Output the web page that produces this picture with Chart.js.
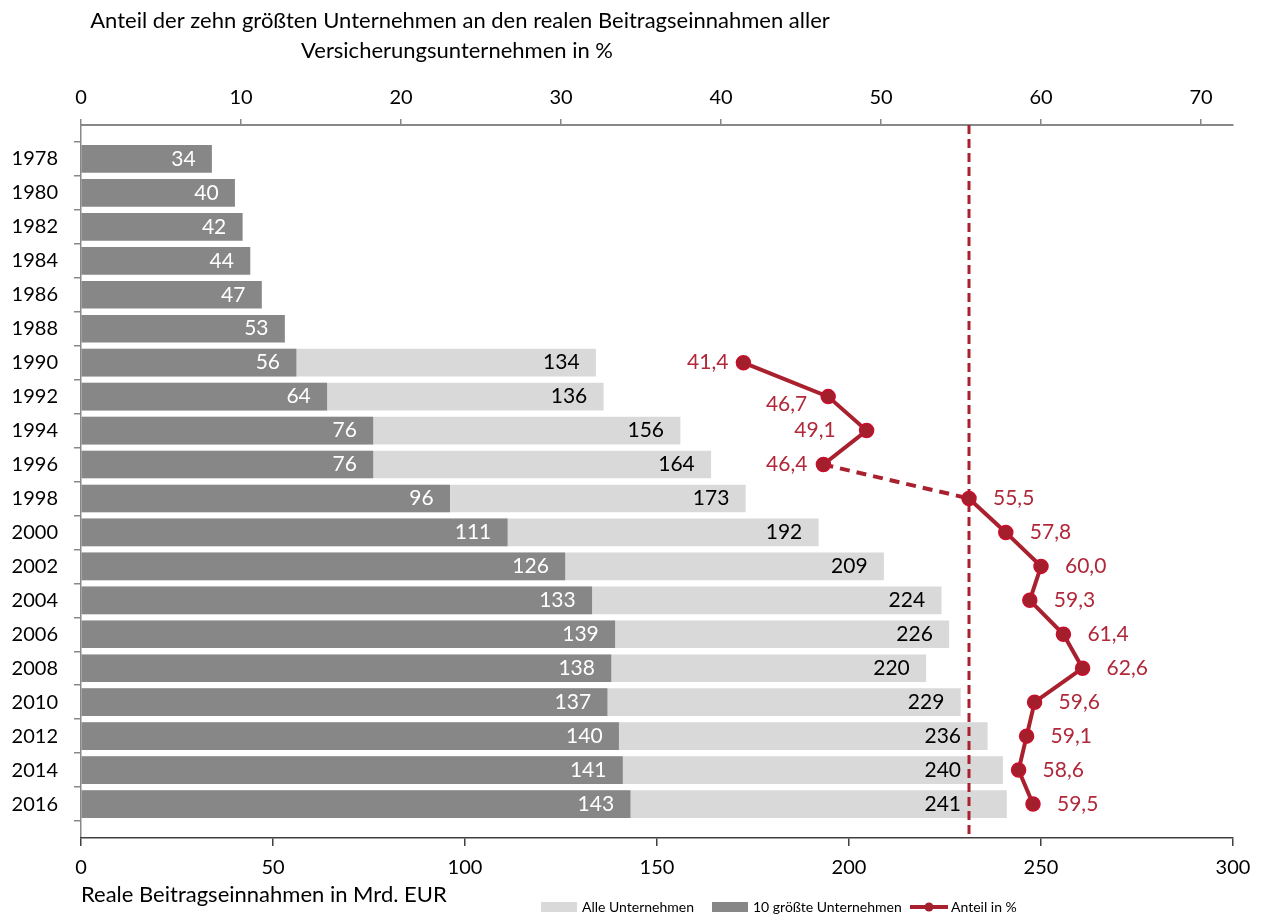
<!DOCTYPE html>
<html lang="de">
<head>
<meta charset="utf-8">
<title>Anteil der zehn größten Versicherungsunternehmen</title>
<script src="https://cdn.jsdelivr.net/npm/chart.js@4/dist/chart.umd.min.js"></script>
<style>
  html, body { margin: 0; padding: 0; background: #fff; }
  #wrap { width: 1266px; height: 918px; }
</style>
</head>
<body>
<div id="wrap"><canvas id="chart" width="1266" height="918"></canvas></div>
<script>
// Jahre (Kategorien)
const years = ['1978', '1980', '1982', '1984', '1986', '1988', '1990', '1992', '1994', '1996',
               '1998', '2000', '2002', '2004', '2006', '2008', '2010', '2012', '2014', '2016'];

// reale Beitragseinnahmen in Mrd. EUR
const top10 = [34, 40, 42, 44, 47, 53, 56, 64, 76, 76, 96, 111, 126, 133, 139, 138, 137, 140, 141, 143];
const allCompanies = [null, null, null, null, null, null, 134, 136, 156, 164, 173, 192, 209, 224, 226, 220, 229, 236, 240, 241];

// Anteil der zehn größten in %
const sharePct = [null, null, null, null, null, null, 41.4, 46.7, 49.1, 46.4, 55.5, 57.8, 60.0, 59.3, 61.4, 62.6, 59.6, 59.1, 58.6, 59.5];

const titleLines = ['Anteil der zehn größten Unternehmen an den realen Beitragseinnahmen aller',
                    'Versicherungsunternehmen in %'];
const xTitle = 'Reale Beitragseinnahmen in Mrd. EUR';

const FONT = 'Lato';
const RED = '#a9202e';
const RED_TEXT = '#b0283a';

// leere Randkategorien, damit oben und unten Luft bleibt
const labels = [''].concat(years, ['']);
const pad = arr => [null].concat(arr, [null]);

// Beschriftung der Anteile: Versatz zum Punkt (links bei den ersten Jahren)
const shareLabelOffset = { '1990': [-15, 0], '1992': [-21, 8], '1994': [-31, 0], '1996': [-16, 0] };
const dashedFrom = '1996';
const refYear = '1998';

const refX = chart => chart.scales.x2.getPixelForValue(sharePct[years.indexOf(refYear)]);

const topTitle = {
  id: 'topTitle',
  afterDraw(chart) {
    const ctx = chart.ctx;
    ctx.save();
    ctx.font = '22px ' + FONT;
    ctx.fillStyle = '#000';
    ctx.textAlign = 'center';
    ctx.fillText(titleLines[0], 460, 28);
    ctx.fillText(titleLines[1], 457, 58);
    ctx.restore();
  }
};

// senkrechte Linie beim Wert von 1998, vor der Linie gezeichnet
const refLine = {
  id: 'refLine',
  beforeDatasetDraw(chart, args) {
    if (args.meta.type !== 'line') return;
    const x = refX(chart);
    const {top, bottom} = chart.chartArea;
    const ctx = chart.ctx;
    ctx.save();
    ctx.strokeStyle = RED;
    ctx.lineWidth = 3;
    ctx.setLineDash([9, 5]);
    ctx.beginPath();
    ctx.moveTo(x, top);
    ctx.lineTo(x, bottom);
    ctx.stroke();
    ctx.restore();
  }
};

const valueLabels = {
  id: 'valueLabels',
  afterDatasetsDraw(chart) {
    const ctx = chart.ctx;
    const limit = refX(chart) - 8;
    ctx.save();
    ctx.font = '21px ' + FONT;
    ctx.textBaseline = 'middle';
    chart.data.datasets.forEach((ds, i) => {
      const meta = chart.getDatasetMeta(i);
      meta.data.forEach((el, j) => {
        const v = ds.data[j];
        if (v == null) return;
        if (meta.type === 'bar') {
          ctx.fillStyle = ds.labelColor;
          ctx.textAlign = 'right';
          ctx.fillText(String(v), Math.min(el.x - 16, limit), el.y);
        } else {
          const off = shareLabelOffset[labels[j]];
          ctx.fillStyle = RED_TEXT;
          const txt = v.toFixed(1).replace('.', ',');
          if (off) {
            ctx.textAlign = 'right';
            ctx.fillText(txt, el.x + off[0], el.y + off[1]);
          } else {
            ctx.textAlign = 'left';
            ctx.fillText(txt, el.x + 24, el.y);
          }
        }
      });
    });
    ctx.restore();
  }
};

const legendStarts = [541, 712, 910];

const bottomLegend = {
  id: 'bottomLegend',
  afterDraw(chart) {
    const ctx = chart.ctx;
    const y = 907;
    ctx.save();
    ctx.font = '14px ' + FONT;
    ctx.textBaseline = 'middle';
    ctx.textAlign = 'left';
    chart.data.datasets.forEach((ds, i) => {
      let x = legendStarts[i];
      if (ds.type === 'line') {
        ctx.strokeStyle = RED;
        ctx.lineWidth = 4;
        ctx.beginPath();
        ctx.moveTo(x, y);
        ctx.lineTo(x + 38, y);
        ctx.stroke();
        ctx.fillStyle = ds.pointBackgroundColor;
        ctx.beginPath();
        ctx.arc(x + 19, y, 4.5, 0, Math.PI * 2);
        ctx.fill();
        x += 41;
      } else {
        ctx.fillStyle = ds.backgroundColor;
        ctx.fillRect(x, y - 5, 36, 10);
        x += 41;
      }
      ctx.fillStyle = '#000';
      ctx.fillText(ds.label, x, y);
    });
    ctx.restore();
  }
};

const tickFont = { family: FONT, size: 20 };

new Chart(document.getElementById('chart'), {
  type: 'bar',
  data: {
    labels: labels,
    datasets: [
      {
        label: 'Alle Unternehmen',
        data: pad(allCompanies),
        backgroundColor: '#d9d9d9',
        labelColor: '#000',
        grouped: false,
        barThickness: 27,
        xAxisID: 'x',
        order: 3
      },
      {
        label: '10 größte Unternehmen',
        data: pad(top10),
        backgroundColor: '#878787',
        labelColor: '#fff',
        grouped: false,
        barThickness: 27,
        xAxisID: 'x',
        order: 2
      },
      {
        type: 'line',
        label: 'Anteil in %',
        data: pad(sharePct),
        xAxisID: 'x2',
        borderColor: RED,
        borderWidth: 4,
        pointRadius: 7,
        pointBorderWidth: 1.5,
        pointBackgroundColor: '#a31f2b',
        pointBorderColor: '#c8102e',
        spanGaps: false,
        segment: {
          borderDash: ctx => labels[ctx.p0DataIndex] === dashedFrom ? [10, 7] : undefined
        },
        order: 1
      }
    ]
  },
  options: {
    indexAxis: 'y',
    responsive: false,
    animation: false,
    layout: { padding: { top: 0, right: 33, bottom: 0, left: 0 } },
    plugins: {
      legend: { display: false },
      tooltip: { enabled: false },
      title: { display: false }
    },
    scales: {
      y: {
        type: 'category',
        offset: false,
        afterFit: s => { s.width = 81; },
        grid: { drawOnChartArea: false, drawTicks: true, tickLength: 7, color: '#888', lineWidth: 1.5 },
        border: { display: true, color: '#888', width: 1.5 },
        ticks: { font: tickFont, color: '#000', padding: 16, autoSkip: false }
      },
      x: {
        type: 'linear',
        position: 'bottom',
        min: 0,
        max: 300,
        afterFit: s => { s.height = 80; },
        grid: { drawOnChartArea: false, drawTicks: true, tickLength: 8, color: '#404040', lineWidth: 1.5 },
        border: { display: true, color: '#404040', width: 1.5 },
        ticks: { stepSize: 50, font: tickFont, color: '#000', padding: 10 },
        title: {
          display: true,
          text: xTitle,
          align: 'start',
          font: { family: FONT, size: 22 },
          color: '#000',
          padding: { top: 0, bottom: 10 }
        }
      },
      x2: {
        type: 'linear',
        position: 'top',
        min: 0,
        max: 72,
        afterFit: s => { s.height = 125; },
        grid: { drawOnChartArea: false, drawTicks: true, tickLength: 6, color: '#888', lineWidth: 1.5 },
        border: { display: true, color: '#888', width: 2 },
        ticks: { stepSize: 10, includeBounds: false, font: tickFont, color: '#000', padding: 9 }
      }
    }
  },
  plugins: [topTitle, refLine, valueLabels, bottomLegend]
});
</script>
</body>
</html>
